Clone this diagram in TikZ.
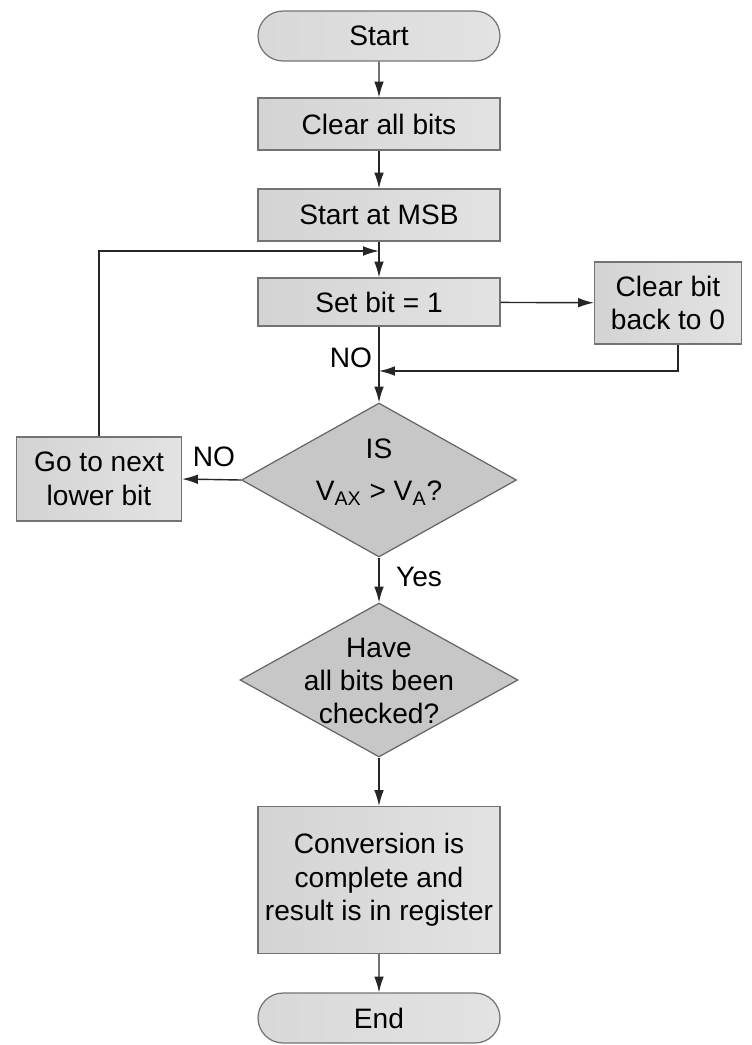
\documentclass[tikz,border=0pt]{standalone}
\usepackage{fontspec}
\setmainfont{Liberation Sans}
\usetikzlibrary{shapes.geometric,shapes.misc,arrows.meta}

\tikzset{
  txt/.style={font=\fontsize{16}{19}\selectfont},
  base/.style={txt, draw=black!55, line width=0.7pt, align=center, inner sep=0pt,
    left color=black!17, middle color=black!3, right color=black!11},
  procbox/.style={base, rectangle, minimum width=4.84cm, minimum height=1.04cm},
  termbox/.style={base, rounded rectangle, minimum width=4.84cm, minimum height=1.0cm,
    left color=black!15, middle color=black!3, right color=black!11},
  decbox/.style={draw=black!60, line width=0.7pt, diamond, aspect=1.79,
    fill=black!22, inner sep=0pt},
  flow/.style={draw=black!85, line width=0.8pt,
    -{Latex[length=9pt,width=5.5pt]}},
  lbl/.style={txt, inner sep=0pt}
}

\begin{document}
\begin{tikzpicture}[x=0.02cm, y=-0.02cm]
  \useasboundingbox (0,0) rectangle (751,1045);

  % main column
  \node[termbox] (start) at (379,36) {Start};
  \node[procbox] (clear) at (379,124) {Clear all bits};
  \node[procbox] (msb) at (379,215) {Start at MSB};
  \node[procbox, minimum height=0.96cm] (set) at (379,302) {Set bit = 1};
  \node[procbox, minimum width=2.94cm, minimum height=1.64cm] (back) at (668,303)
    {Clear bit\\back to 0};

  % comparison decision
  \node[decbox, minimum width=5.5cm, minimum height=3.08cm] (cmp) at (379,480) {};
  \node[txt, align=center] (cmptxt) at (379,472)
    {IS\\[5pt]V\textsubscript{AX} > V\textsubscript{A}?};

  \node[procbox, minimum width=3.3cm, minimum height=1.68cm] (next) at (99,479)
    {Go to next\\lower bit};

  % end-of-bits decision
  \node[decbox, minimum width=5.56cm, minimum height=3.08cm] (all) at (379,680) {};
  \node[txt, align=center] (alltxt) at (379,681) {Have\\all bits been\\checked?};

  \node[procbox, minimum height=2.94cm] (conv) at (379,880)
    {Conversion is\\complete and\\result is in register};
  \node[termbox] (end) at (379,1018) {End};

  % junction points
  \coordinate (jtop) at (379,251);
  \coordinate (jmid) at (379,371);
  \coordinate (nextup) at (99,251);
  \coordinate (backdn) at (678,371);

  % connectors
  \draw[flow] (start) -- (clear);
  \draw[flow] (clear) -- (msb);
  \draw[flow] (msb) -- (set);
  \draw[flow] (set) -- (back);
  \draw[flow] (set) -- (cmp.north);
  \draw[flow] (back.south -| backdn) -- (backdn) -- (jmid);
  \draw[flow] (cmp.west) -- (next.east);
  \draw[flow] (next.north) -- (nextup) -- (jtop);
  \draw[flow] (cmp.south) -- (all.north);
  \draw[flow] (all.south) -- (conv.north);
  \draw[flow] (conv) -- (end);

  % branch labels
  \node[lbl] (no1) at (351,358) {NO};
  \node[lbl] (no2) at (214,457) {NO};
  \node[lbl] (yes) at (419,577) {Yes};
\end{tikzpicture}
\end{document}
